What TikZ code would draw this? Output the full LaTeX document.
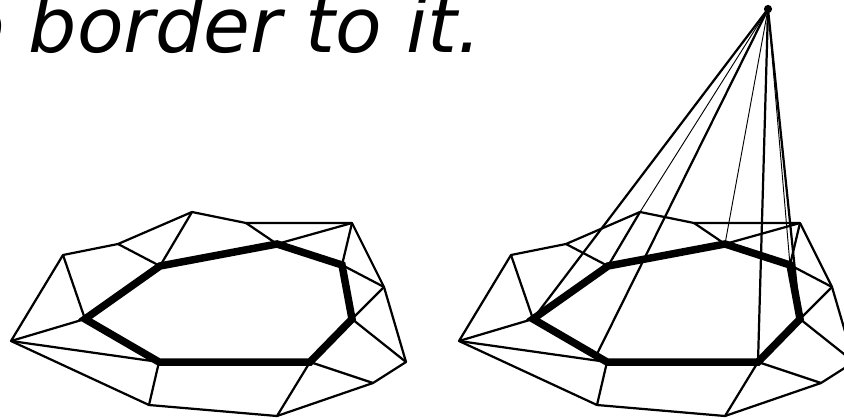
\documentclass[tikz,border=0pt]{standalone}
\usepackage{fontspec}
\usepackage{xcolor}
\usepackage{tikz}
\usetikzlibrary{positioning}
\newfontfamily\captionfont{DejaVu Sans}

\begin{document}
\begin{tikzpicture}[
    x=0.03cm, y=-0.03cm,
    mesh/.style={line width=1.9pt, line join=round},
    ring/.style={line width=6.4pt, line join=miter},
    ray/.style={line width=1.9pt},
    thinray/.style={line width=0.8pt},
    caption/.style={inner sep=0pt, anchor=base west, font=\captionfont\itshape\fontsize{65}{78}\selectfont}
]
    \useasboundingbox (0,0) rectangle (844,418);
    \clip (0,0) rectangle (844,418);

    % caption
    \node[caption] (caption) at (-42,52) {o border to it.};

    % left mesh
    \coordinate (a1) at (11,341);
    \coordinate (a2) at (63,255);
    \coordinate (a3) at (118,244);
    \coordinate (a4) at (192,212);
    \coordinate (a5) at (246,223);
    \coordinate (a6) at (352,223);
    \coordinate (a7) at (384,287);
    \coordinate (a8) at (406,362);
    \coordinate (a9) at (373,383);
    \coordinate (a10) at (277,416);
    \coordinate (a11) at (149,405);
    \coordinate (b1) at (85,319);
    \coordinate (b2) at (160,266);
    \coordinate (b3) at (277,244);
    \coordinate (b4) at (342,265);
    \coordinate (b5) at (352,319);
    \coordinate (b6) at (310,362);
    \coordinate (b7) at (159,362);

    \draw[mesh] (a1) -- (a2) -- (a3) -- (a4) -- (a5) -- (a6) -- (a7) -- (a8) -- (a9) -- (a10) -- (a11) -- cycle;
    \draw[mesh] (b1) -- (a1);
    \draw[mesh] (b1) -- (a2);
    \draw[mesh] (b2) -- (a3);
    \draw[mesh] (b2) -- (a4);
    \draw[mesh] (b3) -- (a5);
    \draw[mesh] (b3) -- (a6);
    \draw[mesh] (b4) -- (a6);
    \draw[mesh] (b4) -- (a7);
    \draw[mesh] (b5) -- (a7);
    \draw[mesh] (b5) -- (a8);
    \draw[mesh] (b6) -- (a9);
    \draw[mesh] (b6) -- (a10);
    \draw[mesh] (b7) -- (a11);
    \draw[mesh] (b7) -- (a1);
    \draw[ring] (b1) -- (b2) -- (b3) -- (b4) -- (b5) -- (b6) -- (b7) -- cycle;

    % right mesh
    \coordinate (c1) at (459,341);
    \coordinate (c2) at (511,255);
    \coordinate (c3) at (566,244);
    \coordinate (c4) at (640,212);
    \coordinate (c5) at (694,223);
    \coordinate (c6) at (800,223);
    \coordinate (c7) at (832,287);
    \coordinate (c8) at (854,362);
    \coordinate (c9) at (821,383);
    \coordinate (c10) at (725,416);
    \coordinate (c11) at (597,405);
    \coordinate (d1) at (533,319);
    \coordinate (d2) at (608,266);
    \coordinate (d3) at (725,244);
    \coordinate (d4) at (790,265);
    \coordinate (d5) at (800,319);
    \coordinate (d6) at (758,362);
    \coordinate (d7) at (607,362);

    \draw[mesh] (c1) -- (c2) -- (c3) -- (c4) -- (c5) -- (c6) -- (c7) -- (c8) -- (c9) -- (c10) -- (c11) -- cycle;
    \draw[mesh] (d1) -- (c1);
    \draw[mesh] (d1) -- (c2);
    \draw[mesh] (d2) -- (c3);
    \draw[mesh] (d2) -- (c4);
    \draw[mesh] (d3) -- (c5);
    \draw[mesh] (d3) -- (c6);
    \draw[mesh] (d4) -- (c6);
    \draw[mesh] (d4) -- (c7);
    \draw[mesh] (d5) -- (c7);
    \draw[mesh] (d5) -- (c8);
    \draw[mesh] (d6) -- (c9);
    \draw[mesh] (d6) -- (c10);
    \draw[mesh] (d7) -- (c11);
    \draw[mesh] (d7) -- (c1);
    \draw[ring] (d1) -- (d2) -- (d3) -- (d4) -- (d5) -- (d6) -- (d7) -- cycle;

    % cone
    \node[circle, fill=black, inner sep=0pt, minimum size=7pt] (apex) at (768,9) {};
    \coordinate (foot) at (597,354);
    \draw[ray] (apex.center) -- (d1);
    \draw[thinray] (apex.center) -- (c4);
    \draw[ray] (apex.center) -- (foot);
    \draw[thinray] (apex.center) -- (d3);
    \draw[ray] (apex.center) -- (d6);
    \draw[thinray] (apex.center) -- (d4);
    \draw[ray] (apex.center) -- (d5);
\end{tikzpicture}
\end{document}
